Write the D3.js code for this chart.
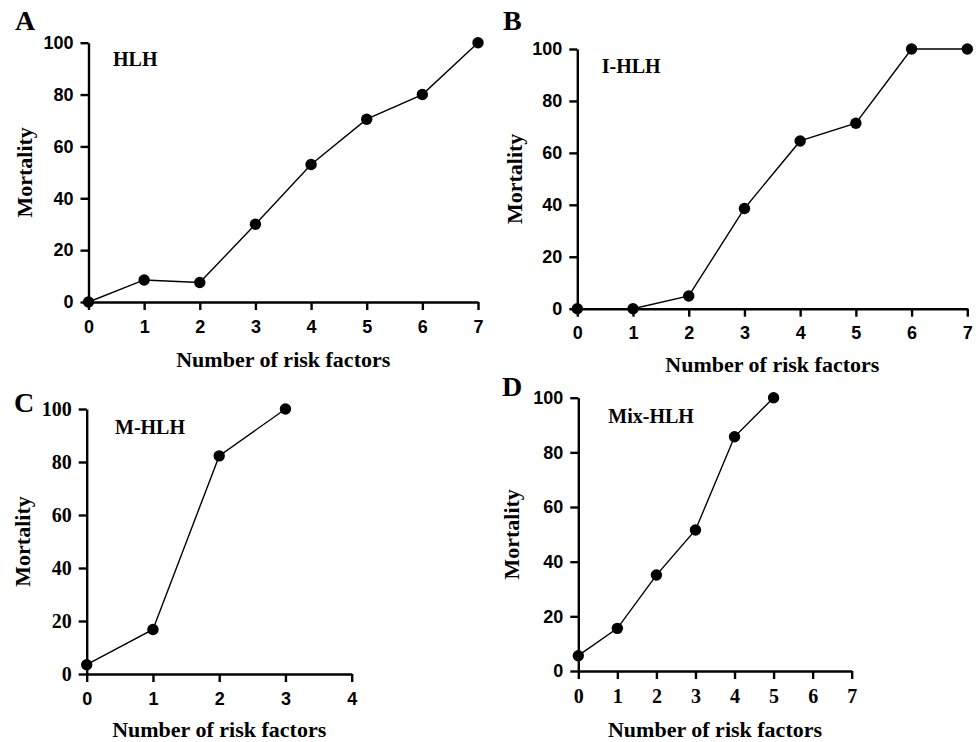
<!DOCTYPE html>
<html>
<head>
<meta charset="utf-8">
<script src="https://cdn.jsdelivr.net/npm/d3@7"></script>
<style>
  html, body { margin: 0; padding: 0; background: #fff; }
  svg { display: block; }
</style>
</head>
<body>
<div id="chart"></div>
<script>
// ---- data ----
const panelLetters = ["A", "B", "C", "D"];
const seriesNames = ["HLH", "I-HLH", "M-HLH", "Mix-HLH"];
const xTickMax = [7, 7, 4, 7];
const yTicks = [0, 20, 40, 60, 80, 100];

const riskA = [0, 1, 2, 3, 4, 5, 6, 7];
const mortA = [0, 8.5, 7.5, 30, 53, 70.5, 80, 100];

const riskB = [0, 1, 2, 3, 4, 5, 6, 7];
const mortB = [0, 0, 4.9, 38.6, 64.6, 71.4, 100, 100];

const riskC = [0, 1, 2, 3];
const mortC = [3.5, 16.8, 82.3, 100];

const riskD = [0, 1, 2, 3, 4, 5];
const mortD = [5.6, 15.6, 35.1, 51.6, 85.7, 100];

const xTitle = "Number of risk factors";
const yTitle = "Mortality";

// ---- layout ----
const W = 976, H = 742;
const SERIF = "'Liberation Serif', 'Times New Roman', serif";
const SANS = "'Liberation Sans', Arial, sans-serif";

const panels = [
  { letter: panelLetters[0], name: seriesNames[0], xs: riskA, ys: mortA, xmax: xTickMax[0],
    x0: 88.5, x1: 478, y0: 302, y1: 42.7, letterPos: [15, 30], namePos: [113, 65.7],
    yTitleX: 25, xTitleY: 366.5, yTickFont: SANS, xTickFont: SANS },
  { letter: panelLetters[1], name: seriesNames[1], xs: riskB, ys: mortB, xmax: xTickMax[1],
    x0: 577.3, x1: 967.3, y0: 308.7, y1: 49, letterPos: [503, 30], namePos: [601.7, 72.7],
    yTitleX: 515, xTitleY: 371.5, yTickFont: SANS, xTickFont: SANS },
  { letter: panelLetters[2], name: seriesNames[2], xs: riskC, ys: mortC, xmax: xTickMax[2],
    x0: 86.7, x1: 351.7, y0: 674, y1: 409, letterPos: [14, 411.5], namePos: [115, 434],
    yTitleX: 23, xTitleY: 736.5, yTickFont: SERIF, xTickFont: SANS },
  { letter: panelLetters[3], name: seriesNames[3], xs: riskD, ys: mortD, xmax: xTickMax[3],
    x0: 578.3, x1: 851.7, y0: 671, y1: 397.7, letterPos: [502, 396], namePos: [608.3, 423.3],
    yTitleX: 511.5, xTitleY: 736.5, yTickFont: SANS, xTickFont: SERIF }
];

const svg = d3.select("#chart").append("svg")
  .attr("width", W).attr("height", H)
  .attr("viewBox", `0 0 ${W} ${H}`);

function styleTicks(sel, font) {
  sel.attr("fill", "#000")
    .style("font-family", font)
    .style("font-weight", "bold")
    .style("font-size", font === SERIF ? "20px" : "18px");
}

panels.forEach(p => {
  const x = d3.scaleLinear().domain([0, p.xmax]).range([p.x0, p.x1]);
  const y = d3.scaleLinear().domain([0, 100]).range([p.y0, p.y1]);
  const g = svg.append("g");

  // x axis
  const xAxis = d3.axisBottom(x).tickValues(d3.range(0, p.xmax + 1))
    .tickFormat(d3.format("d")).tickSize(8).tickSizeOuter(0).tickPadding(10);
  const gx = g.append("g").attr("transform", `translate(0,${p.y0})`).call(xAxis);
  gx.select(".domain").attr("stroke", "#000").attr("stroke-width", 2.4);
  gx.selectAll(".tick line").attr("stroke", "#000").attr("stroke-width", 2.4);
  styleTicks(gx.selectAll(".tick text"), p.xTickFont);

  // y axis
  const yAxis = d3.axisLeft(y).tickValues(yTicks)
    .tickFormat(d3.format("d")).tickSize(8).tickSizeOuter(0).tickPadding(7);
  const gy = g.append("g").attr("transform", `translate(${p.x0},0)`).call(yAxis);
  gy.select(".domain").attr("stroke", "#000").attr("stroke-width", 2.4);
  gy.selectAll(".tick line").attr("stroke", "#000").attr("stroke-width", 2.4);
  styleTicks(gy.selectAll(".tick text"), p.yTickFont);

  // line
  const pts = p.xs.map((v, i) => [v, p.ys[i]]);
  const line = d3.line().x(d => x(d[0])).y(d => y(d[1]));
  g.append("path").datum(pts)
    .attr("d", line)
    .attr("fill", "none")
    .attr("stroke", "#000")
    .attr("stroke-width", 1.4);

  g.selectAll("circle.pt").data(pts).enter().append("circle")
    .attr("class", "pt")
    .attr("cx", d => x(d[0]))
    .attr("cy", d => y(d[1]))
    .attr("r", 5.7)
    .attr("fill", "#000");

  // panel letter
  g.append("text")
    .attr("x", p.letterPos[0]).attr("y", p.letterPos[1])
    .style("font-family", SERIF).style("font-weight", "bold").style("font-size", "28px")
    .text(p.letter);

  // series name
  g.append("text")
    .attr("x", p.namePos[0]).attr("y", p.namePos[1])
    .style("font-family", SERIF).style("font-weight", "bold").style("font-size", "20px")
    .text(p.name);

  // y title
  g.append("text")
    .attr("transform", `translate(${p.yTitleX + 7},${(p.y0 + p.y1) / 2}) rotate(-90)`)
    .attr("text-anchor", "middle")
    .style("font-family", SERIF).style("font-weight", "bold").style("font-size", "22px")
    .text(yTitle);

  // x title
  g.append("text")
    .attr("x", (p.x0 + p.x1) / 2).attr("y", p.xTitleY)
    .attr("text-anchor", "middle")
    .style("font-family", SERIF).style("font-weight", "bold").style("font-size", "22px")
    .text(xTitle);
});
</script>
</body>
</html>
